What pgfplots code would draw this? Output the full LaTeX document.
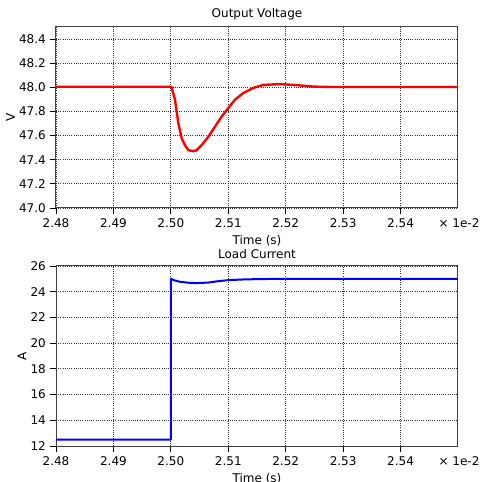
\documentclass[border=0pt]{standalone}
\usepackage{pgfplots}
\pgfplotsset{compat=1.18}
\usepackage{fontspec}
\setmainfont{DejaVu Sans}
\begin{document}
\fontsize{12bp}{14bp}\selectfont
\begin{tikzpicture}
\useasboundingbox (0,0) rectangle (491bp,482bp);
\pgfplotsset{
  myax/.style={
    scale only axis,
    width=402bp,
    anchor=south west,
    xmin=2.48, xmax=2.55,
    xtick={2.48,2.49,2.50,2.51,2.52,2.53,2.54},
    xticklabel style={/pgf/number format/.cd,fixed,fixed zerofill,precision=2},
    /pgf/number format/assume math mode=true,
    tick label style={font=\fontsize{12bp}{14bp}\selectfont},
    label style={font=\fontsize{12bp}{14bp}\selectfont},
    ylabel style={yshift=-4bp},
    title style={font=\fontsize{12bp}{14bp}\selectfont, yshift=-3bp},
    xlabel={Time (s)},
    xtick pos=left, ytick pos=left,
    tick align=outside,
    major tick length=6bp,
    tick style={black, line width=0.8bp},
    axis line style={black!75, line width=1bp},
    grid=major,
    major grid style={black!80, line width=0.8bp, dash pattern=on 1bp off 1.2bp},
    scaled x ticks=false,
  }
}
\begin{axis}[myax,
  at={(56bp,274bp)}, height=181bp,
  ymin=47.0, ymax=48.5,
  ytick={47.0,47.2,47.4,47.6,47.8,48.0,48.2,48.4},
  yticklabel style={/pgf/number format/.cd,fixed,fixed zerofill,precision=1},
  ylabel={V},
  title={Output Voltage},
]
\addplot[red, line width=2.4bp, line join=round] coordinates {
(2.4800,48.005) (2.5001,48.005) (2.50072,47.897) (2.50130,47.702) (2.50189,47.577)
(2.50246,47.521) (2.50304,47.479) (2.50391,47.471) (2.50450,47.479) (2.50537,47.521)
(2.50652,47.590) (2.50769,47.674) (2.50885,47.758) (2.51000,47.828) (2.51117,47.897)
(2.51261,47.953) (2.51436,47.995) (2.51610,48.020) (2.51900,48.027) (2.52191,48.018)
(2.52480,48.006) (2.52771,48.003) (2.5500,48.003)
};
\end{axis}
\begin{axis}[myax,
  at={(56bp,36bp)}, height=180bp,
  ymin=12, ymax=26,
  ytick={12,14,16,18,20,22,24,26},
  ylabel={A},
  title={Load Current},
]
\addplot[blue, line width=2bp, line join=round] coordinates {
(2.4800,12.5) (2.5000,12.5) (2.50002,25.0) (2.5005,24.90) (2.5015,24.78)
(2.5030,24.70) (2.5045,24.67) (2.5065,24.71) (2.5079,24.80) (2.5100,24.90)
(2.5130,24.96) (2.5180,25.0) (2.5500,25.0)
};
\end{axis}
\node at (459bp,259bp) {× 1e-2};
\node at (459bp,21bp) {× 1e-2};
\end{tikzpicture}
\end{document}
